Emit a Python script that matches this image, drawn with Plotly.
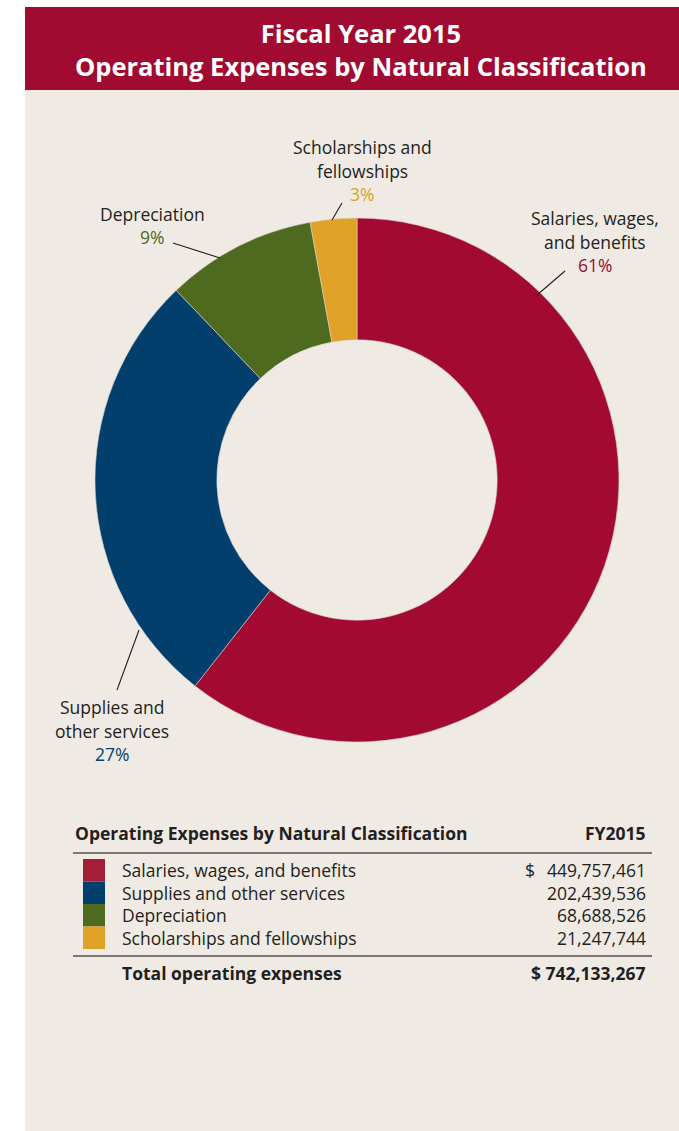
import plotly.graph_objects as go

W, H = 679, 1131

categories = ["Salaries, wages, and benefits", "Supplies and other services",
              "Depreciation", "Scholarships and fellowships"]
values = [449757461, 202439536, 68688526, 21247744]
colors = ["#A20A31", "#023F6D", "#4E6A1F", "#E0A127"]
swatch_colors = ["#A51E38", "#023F6D", "#4E6A1F", "#E0A127"]
pie_labels = [["Salaries, wages,", "and benefits"], ["Supplies and", "other services"],
              ["Depreciation"], ["Scholarships and", "fellowships"]]
title_lines = ["Fiscal Year 2015", "Operating Expenses by Natural Classification"]
table_title = "Operating Expenses by Natural Classification"
col_title = "FY2015"
total_label = "Total operating expenses"

total = sum(values)
pcts = [round(v / total * 100) for v in values]

FONT = "Open Sans"
DARK = "#231F20"
BEIGE = "#EFEAE3"
CRIMSON = "#A20B31"
FS = 17.5


def px(x):
    return x / W


def py(y):
    return 1 - y / H


fig = go.Figure()

# donut: centre (357,480), radius 262
cx, cy, r = 357, 480, 262
fig.add_trace(go.Pie(
    labels=categories, values=values, sort=False, direction="clockwise",
    rotation=0, hole=0.535, textinfo="none", hoverinfo="label+value+percent",
    marker=dict(colors=colors, line=dict(color="#D9D2CA", width=0.6)),
    domain=dict(x=[px(cx - r), px(cx + r)], y=[py(cy + r), py(cy - r)]),
    showlegend=False,
))

shapes = []
annotations = []

# background panel and title band
shapes.append(dict(type="rect", xref="paper", yref="paper", x0=px(25), x1=px(679),
                   y0=py(1131), y1=py(7), fillcolor=BEIGE, line=dict(width=0), layer="below"))
shapes.append(dict(type="rect", xref="paper", yref="paper", x0=px(25), x1=px(679),
                   y0=py(90), y1=py(7), fillcolor=CRIMSON, line=dict(width=0), layer="below"))

annotations.append(dict(text="<b>%s</b>" % "<br>".join(title_lines), x=px(361), y=py(49),
                        xref="paper", yref="paper", showarrow=False, xanchor="center",
                        yanchor="middle", align="center",
                        font=dict(family=FONT, size=25.5, color="white")))

# pie labels: (centre x, first line y), line spacing 23.5
label_pos = [(595, 218), (112, 707), (152, 214), (362, 147)]
for i, (lx, ly) in enumerate(label_pos):
    lines = pie_labels[i]
    for j, ln in enumerate(lines):
        annotations.append(dict(text=ln, x=px(lx), y=py(ly + j * 23.5), xref="paper", yref="paper",
                                showarrow=False, xanchor="center", yanchor="middle",
                                font=dict(family=FONT, size=FS, color=DARK)))
    annotations.append(dict(text="%d%%" % pcts[i], x=px(lx), y=py(ly + len(lines) * 23.5),
                            xref="paper", yref="paper", showarrow=False,
                            xanchor="center", yanchor="middle",
                            font=dict(family=FONT, size=FS, color=colors[i])))

# leader lines
leaders = [((565, 271), (537, 295)), ((139, 630), (117, 690)),
           ((173, 243), (220, 258)), ((342, 203), (332, 220))]
for (x0, y0), (x1, y1) in leaders:
    shapes.append(dict(type="line", xref="paper", yref="paper", x0=px(x0), y0=py(y0),
                       x1=px(x1), y1=py(y1), line=dict(color=DARK, width=1.1)))

# table
annotations.append(dict(text="<b>%s</b>" % table_title, x=px(73), y=py(833), xref="paper", yref="paper",
                        showarrow=False, xanchor="left", yanchor="middle",
                        font=dict(family=FONT, size=FS, color=DARK)))
annotations.append(dict(text="<b>%s</b>" % col_title, x=px(648), y=py(833), xref="paper", yref="paper",
                        showarrow=False, xanchor="right", yanchor="middle",
                        font=dict(family=FONT, size=FS, color=DARK)))
for yy in [853, 956]:
    shapes.append(dict(type="line", xref="paper", yref="paper", x0=px(73), x1=px(652),
                       y0=py(yy), y1=py(yy), line=dict(color="#55504D", width=1.3)))

row_y = [870, 892.5, 915, 937.5]
for i, cat in enumerate(categories):
    yy = row_y[i]
    shapes.append(dict(type="rect", xref="paper", yref="paper", x0=px(83), x1=px(105),
                       y0=py(yy + 11.5), y1=py(yy - 11), fillcolor=swatch_colors[i],
                       line=dict(width=0)))
    annotations.append(dict(text=cat, x=px(120), y=py(yy), xref="paper", yref="paper",
                            showarrow=False, xanchor="left", yanchor="middle",
                            font=dict(family=FONT, size=FS, color=DARK)))
    annotations.append(dict(text="{:,}".format(values[i]), x=px(648), y=py(yy), xref="paper",
                            yref="paper", showarrow=False, xanchor="right", yanchor="middle",
                            font=dict(family=FONT, size=FS, color=DARK)))
annotations.append(dict(text="$", x=px(523), y=py(row_y[0]), xref="paper", yref="paper",
                        showarrow=False, xanchor="left", yanchor="middle",
                        font=dict(family=FONT, size=FS, color=DARK)))

annotations.append(dict(text="<b>%s</b>" % total_label, x=px(120), y=py(973), xref="paper", yref="paper",
                        showarrow=False, xanchor="left", yanchor="middle",
                        font=dict(family=FONT, size=FS, color=DARK)))
annotations.append(dict(text="<b>$ {:,}</b>".format(total), x=px(648), y=py(973), xref="paper",
                        yref="paper", showarrow=False, xanchor="right", yanchor="middle",
                        font=dict(family=FONT, size=FS, color=DARK)))

fig.update_layout(width=W, height=H, margin=dict(l=0, r=0, t=0, b=0),
                  paper_bgcolor="white", plot_bgcolor="white",
                  shapes=shapes, annotations=annotations)

fig.write_html("out.html")
